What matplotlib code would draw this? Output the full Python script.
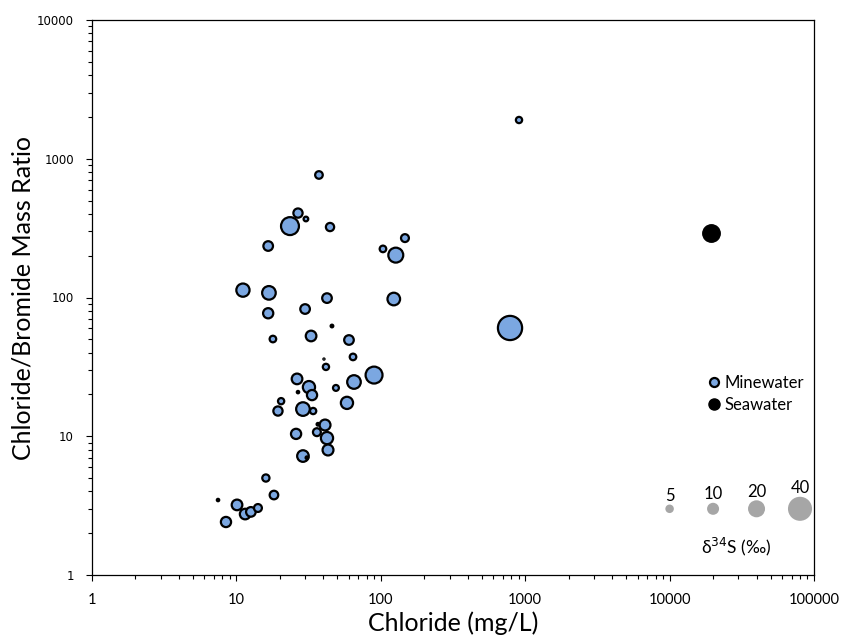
import matplotlib

matplotlib.use("Agg")
import matplotlib.pyplot as plt
import numpy as np
from matplotlib.lines import Line2D
from matplotlib.ticker import LogLocator, NullFormatter

# Minewater samples: chloride (mg/L), Cl/Br mass ratio, delta34S (permil)
mine_cl = [37.3, 26.7, 30.3, 23.5, 44.5, 16.6, 103.5, 147, 127, 11.1,
           16.8, 42.4, 123, 16.6, 29.9, 45.9, 17.9, 32.9, 60.2, 40.4,
           41.7, 64.2, 89.8, 26.3, 65.2, 31.8, 33.4, 26.7, 48.9, 58.3,
           20.4, 19.4, 28.9, 34.0, 41.1, 36.7, 36.1, 42.4, 25.9, 43.1,
           28.9, 30.8, 16.0, 18.2, 7.46, 10.1, 11.5, 12.6, 14.1, 8.47,
           906, 785]
mine_ratio = [764, 406, 368, 327, 322, 235, 224, 268, 202, 113,
              108, 99, 97.5, 77, 82.6, 62.3, 50.2, 52.8, 49.4, 36,
              31.6, 37.3, 27.6, 25.9, 24.6, 22.6, 19.8, 20.8, 22.3, 17.4,
              17.9, 15.2, 15.7, 15.2, 12.05, 12.2, 10.7, 9.7, 10.4, 7.96,
              7.2, 7.0, 5.0, 3.77, 3.47, 3.2, 2.75, 2.85, 3.04, 2.41,
              1902, 60.3]
mine_d34s = [4.0, 5.9, 1.5, 22.2, 4.7, 6.4, 3.0, 4.3, 15.4, 12.1,
             12.8, 6.4, 11.0, 7.2, 6.4, 0.5, 3.0, 7.8, 6.4, 0.1,
             2.7, 3.0, 19.8, 7.8, 12.8, 10.3, 7.2, 0.4, 2.4, 10.3,
             2.7, 5.9, 12.8, 2.7, 8.2, 0.5, 4.3, 10.3, 7.2, 8.2,
             9.3, 0.5, 3.6, 5.1, 0.4, 7.8, 7.8, 6.4, 4.3, 7.2,
             2.7, 40.5]

sea_cl = [19360]
sea_ratio = [292]
sea_d34s = [21]

# bubble size key, plotted as its own series
key_cl = [10000, 20000, 40000, 80000]
key_ratio = [3, 3, 3, 3]
key_d34s = [5, 10, 20, 40]

x_ticks = [1, 10, 100, 1000, 10000, 100000]
y_ticks = [1, 10, 100, 1000, 10000]

SIZE_SCALE = 7.5
BLUE = "#7ba7e1"
GREY = "#a6a6a6"
FONT = "Lato"

fig = plt.figure(figsize=(8.42, 6.4), dpi=100)
ax = fig.add_axes([92 / 842, 1 - 575 / 640, 722 / 842, 555 / 640])

ax.scatter(mine_cl, mine_ratio, s=np.array(mine_d34s) * SIZE_SCALE,
           c=BLUE, edgecolors="black", linewidths=1.6, zorder=3)
ax.scatter(sea_cl, sea_ratio, s=np.array(sea_d34s) * SIZE_SCALE,
           c="black", edgecolors="black", linewidths=1.0, zorder=3)
ax.scatter(key_cl, key_ratio, s=np.array(key_d34s) * SIZE_SCALE,
           c=GREY, edgecolors="none", zorder=3)

for xv, yv, dv in zip(key_cl, key_ratio, key_d34s):
    r = np.sqrt(dv * SIZE_SCALE) / 2
    ax.annotate(str(dv), (xv, yv), xytext=(0, r + 6), textcoords="offset points",
                ha="center", va="center", fontsize=12, family=FONT)

ax.text(0.892, 0.05, "δ$^{34}$S (‰)", transform=ax.transAxes, ha="center",
        va="center", fontsize=12.5, family=[FONT, "DejaVu Sans"])

ax.set_xscale("log")
ax.set_yscale("log")
ax.set_xlim(1, 100000)
ax.set_ylim(1, 10000)

ax.set_xticks(x_ticks)
ax.set_xticklabels([str(t) for t in x_ticks], family=FONT, fontsize=10.5)
ax.set_yticks(y_ticks)
ax.set_yticklabels([str(t) for t in y_ticks], family="DejaVu Sans", fontsize=8.5)
ax.xaxis.set_minor_locator(LogLocator(base=10, subs=np.arange(2, 10)))
ax.yaxis.set_minor_locator(LogLocator(base=10, subs=np.arange(2, 10)))
ax.xaxis.set_minor_formatter(NullFormatter())
ax.yaxis.set_minor_formatter(NullFormatter())
ax.tick_params(axis="both", which="major", direction="out", length=4, width=0.8)
ax.tick_params(axis="both", which="minor", direction="out", length=3, width=0.8)
ax.tick_params(axis="x", which="major", pad=9)
ax.tick_params(axis="y", which="major", pad=9)

for sp in ax.spines.values():
    sp.set_linewidth(0.9)

ax.set_xlabel("Chloride (mg/L)", family=FONT, fontsize=18)
ax.set_ylabel("Chloride/Bromide Mass Ratio", family=FONT, fontsize=18)
ax.xaxis.set_label_coords(0.5, -0.066)
ax.yaxis.set_label_coords(-0.080, 0.5)

handles = [
    Line2D([], [], ls="none", marker="o", markersize=6.5, markerfacecolor=BLUE,
           markeredgecolor="black", markeredgewidth=1.6),
    Line2D([], [], ls="none", marker="o", markersize=8, markerfacecolor="black",
           markeredgecolor="black"),
]
ax.legend(handles, ["Minewater", "Seawater"], loc="center left",
          bbox_to_anchor=(0.8386, 0.326), frameon=False, borderpad=0,
          handlelength=1.0, handletextpad=0.1, labelspacing=0.35,
          prop={"family": FONT, "size": 12})

fig.savefig("out.png", dpi=100)
